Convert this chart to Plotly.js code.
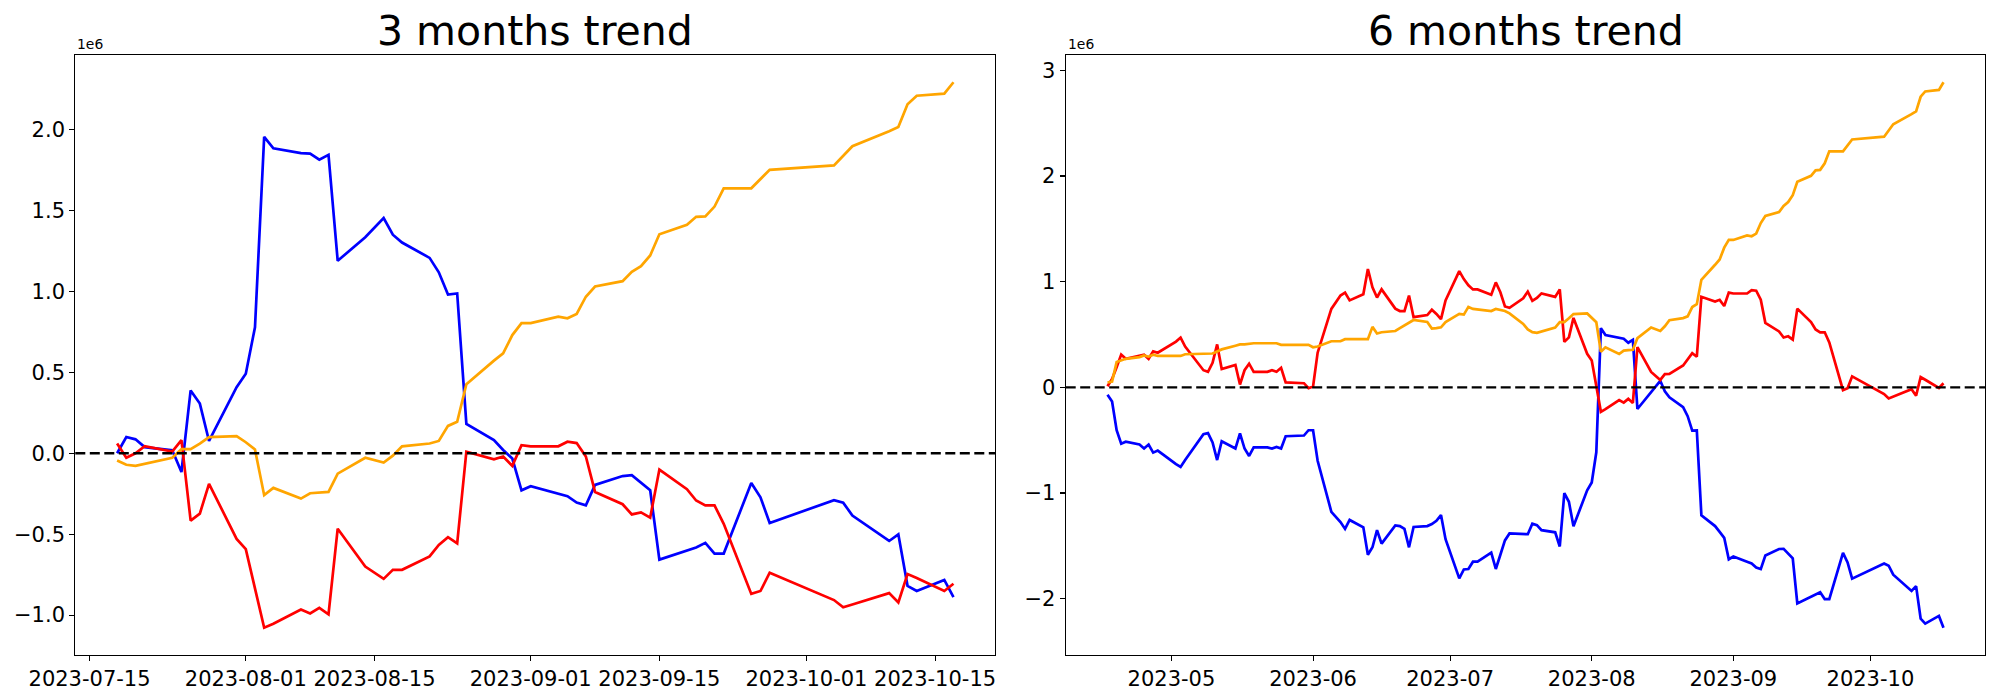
<!DOCTYPE html>
<html>
<head>
<meta charset="utf-8">
<script src="https://cdn.plot.ly/plotly-3.0.1.min.js"></script>
<style>
html, body { margin: 0; padding: 0; background: #ffffff; }
#chart { width: 2000px; height: 700px; }
</style>
</head>
<body>
<div id="chart"></div>
<script>
// ---------- 3 months trend (values in units of 1e6) ----------
const dates3 = [
  '2023-07-18','2023-07-19','2023-07-20','2023-07-21','2023-07-24','2023-07-25','2023-07-26','2023-07-27','2023-07-28','2023-07-31',
  '2023-08-01','2023-08-02','2023-08-03','2023-08-04','2023-08-07','2023-08-08','2023-08-09','2023-08-10','2023-08-11','2023-08-14',
  '2023-08-16','2023-08-17','2023-08-18','2023-08-21','2023-08-22','2023-08-23','2023-08-24','2023-08-25','2023-08-28','2023-08-29',
  '2023-08-30','2023-08-31','2023-09-01','2023-09-04','2023-09-05','2023-09-06','2023-09-07','2023-09-08','2023-09-11','2023-09-12',
  '2023-09-13','2023-09-14','2023-09-15','2023-09-18','2023-09-19','2023-09-20','2023-09-21','2023-09-22','2023-09-25','2023-09-26',
  '2023-09-27','2023-10-04','2023-10-05','2023-10-06','2023-10-10','2023-10-11','2023-10-12','2023-10-13','2023-10-16','2023-10-17'
];
const blue3 = [
  0.00, 0.10, 0.086, 0.038, 0.018, -0.116, 0.388, 0.307, 0.076, 0.408,
  0.491, 0.778, 1.955, 1.884, 1.854, 1.851, 1.814, 1.844, 1.189, 1.335,
  1.453, 1.350, 1.302, 1.207, 1.118, 0.980, 0.987, 0.181, 0.081, 0.02,
  -0.033, -0.229, -0.204, -0.25, -0.265, -0.305, -0.322, -0.196, -0.141, -0.136,
  -0.18, -0.229, -0.657, -0.600, -0.582, -0.554, -0.620, -0.620, -0.184, -0.272,
  -0.431, -0.290, -0.305, -0.385, -0.542, -0.501, -0.819, -0.851, -0.783, -0.889
];
const red3 = [
  0.06, -0.028, 0.0, 0.043, 0.01, 0.081, -0.416, -0.373, -0.189, -0.529,
  -0.592, -0.834, -1.078, -1.053, -0.965, -0.99, -0.955, -0.995, -0.466, -0.700,
  -0.776, -0.720, -0.720, -0.637, -0.567, -0.519, -0.557, 0.010, -0.038, -0.020,
  -0.078, 0.050, 0.043, 0.043, 0.071, 0.063, -0.020, -0.239, -0.315, -0.378,
  -0.365, -0.398, -0.101, -0.222, -0.292, -0.322, -0.322, -0.436, -0.869, -0.851,
  -0.738, -0.907, -0.952, -0.935, -0.864, -0.922, -0.746, -0.771, -0.851, -0.806
];
const orange3 = [
  -0.045, -0.071, -0.078, -0.065, -0.028, 0.025, 0.025, 0.060, 0.100, 0.106,
  0.068, 0.023, -0.259, -0.214, -0.280, -0.247, -0.242, -0.239, -0.126, -0.028,
  -0.058, -0.015, 0.043, 0.060, 0.076, 0.169, 0.194, 0.426, 0.572, 0.617,
  0.730, 0.804, 0.804, 0.844, 0.834, 0.861, 0.967, 1.030, 1.063, 1.121,
  1.156, 1.222, 1.353, 1.411, 1.461, 1.463, 1.524, 1.637, 1.637, 1.693,
  1.751, 1.778, 1.836, 1.897, 1.990, 2.015, 2.156, 2.209, 2.222, 2.292
];

// ---------- 6 months trend (values in units of 1e6) ----------
const dates6 = [
  '2023-04-17','2023-04-18','2023-04-19','2023-04-20','2023-04-21','2023-04-24','2023-04-25','2023-04-26','2023-04-27','2023-04-28',
  '2023-05-02','2023-05-03','2023-05-04','2023-05-08','2023-05-09','2023-05-10','2023-05-11','2023-05-12','2023-05-15','2023-05-16',
  '2023-05-17','2023-05-18','2023-05-19','2023-05-22','2023-05-23','2023-05-24','2023-05-25','2023-05-26','2023-05-30','2023-05-31',
  '2023-06-01','2023-06-02','2023-06-05','2023-06-07','2023-06-08','2023-06-09','2023-06-12','2023-06-13','2023-06-14','2023-06-15',
  '2023-06-16','2023-06-19','2023-06-20','2023-06-21','2023-06-22','2023-06-23','2023-06-26','2023-06-27','2023-06-28','2023-06-29',
  '2023-06-30','2023-07-03','2023-07-04','2023-07-05','2023-07-06','2023-07-07','2023-07-10','2023-07-11','2023-07-12','2023-07-13',
  '2023-07-14','2023-07-17','2023-07-18','2023-07-19','2023-07-20','2023-07-21','2023-07-24','2023-07-25','2023-07-26','2023-07-27',
  '2023-07-28','2023-07-31','2023-08-01','2023-08-02','2023-08-03','2023-08-04','2023-08-07','2023-08-08','2023-08-09','2023-08-10',
  '2023-08-11','2023-08-14','2023-08-16','2023-08-17','2023-08-18','2023-08-21','2023-08-22','2023-08-23','2023-08-24','2023-08-25',
  '2023-08-28','2023-08-29','2023-08-30','2023-08-31','2023-09-01','2023-09-04','2023-09-05','2023-09-06','2023-09-07','2023-09-08',
  '2023-09-11','2023-09-12','2023-09-13','2023-09-14','2023-09-15','2023-09-18','2023-09-19','2023-09-20','2023-09-21','2023-09-22',
  '2023-09-25','2023-09-26','2023-09-27','2023-10-04','2023-10-05','2023-10-06','2023-10-10','2023-10-11','2023-10-12','2023-10-13',
  '2023-10-16','2023-10-17'
];
const blue6 = [
  -0.07, -0.135, -0.405, -0.533, -0.514, -0.541, -0.579, -0.541, -0.618, -0.599,
  -0.726, -0.753, -0.688, -0.444, -0.433, -0.521, -0.688, -0.51, -0.579, -0.436,
  -0.579, -0.649, -0.568, -0.568, -0.579, -0.564, -0.579, -0.463, -0.456, -0.406,
  -0.406, -0.695, -1.178, -1.275, -1.34, -1.255, -1.325, -1.584, -1.514, -1.352,
  -1.479, -1.306, -1.313, -1.34, -1.514, -1.321, -1.313, -1.294, -1.263, -1.209,
  -1.437, -1.808, -1.723, -1.719, -1.65, -1.65, -1.565, -1.719, -1.584, -1.449,
  -1.383, -1.39, -1.39, -1.29, -1.304, -1.352, -1.372, -1.506, -1.002, -1.083,
  -1.314, -0.975, -0.9, -0.615, 0.56, 0.495, 0.465, 0.46, 0.422, 0.45,
  -0.205, -0.045, 0.062, -0.038, -0.095, -0.187, -0.273, -0.41, -0.407, -1.211,
  -1.313, -1.368, -1.424, -1.627, -1.601, -1.65, -1.667, -1.705, -1.72, -1.591,
  -1.53, -1.528, -1.57, -1.618, -2.045, -1.985, -1.96, -1.94, -2.004, -2.004,
  -1.567, -1.657, -1.81, -1.668, -1.688, -1.773, -1.927, -1.881, -2.19, -2.236,
  -2.163, -2.275
];
const red6 = [
  0.01, 0.08, 0.19, 0.31, 0.27, 0.301, 0.309, 0.27, 0.34, 0.328,
  0.433, 0.471, 0.386, 0.162, 0.147, 0.232, 0.406, 0.174, 0.212, 0.027,
  0.162, 0.224, 0.147, 0.147, 0.162, 0.147, 0.185, 0.046, 0.039, -0.008,
  0.008, 0.328, 0.742, 0.869, 0.896, 0.823, 0.881, 1.12, 0.946, 0.85,
  0.927, 0.745, 0.722, 0.722, 0.869, 0.664, 0.684, 0.734, 0.695, 0.645,
  0.823, 1.10, 1.024, 0.966, 0.927, 0.927, 0.877, 0.993, 0.9, 0.765,
  0.753, 0.842, 0.906, 0.818, 0.846, 0.889, 0.856, 0.927, 0.43, 0.473,
  0.657, 0.317, 0.254, 0.012, -0.232, -0.207, -0.12, -0.145, -0.109, -0.148,
  0.38, 0.146, 0.07, 0.125, 0.126, 0.207, 0.27, 0.324, 0.29, 0.857,
  0.812, 0.828, 0.77, 0.896, 0.888, 0.888, 0.919, 0.915, 0.83, 0.61,
  0.529, 0.471, 0.483, 0.452, 0.745, 0.618, 0.548, 0.521, 0.521, 0.425,
  -0.027, -0.008, 0.104, -0.063, -0.105, -0.088, -0.018, -0.08, 0.098, 0.072,
  -0.006, 0.039
];
const orange6 = [
  0.046, 0.054, 0.239, 0.251, 0.27, 0.286, 0.301, 0.29, 0.309, 0.297,
  0.297, 0.297, 0.313, 0.317, 0.317, 0.32, 0.34, 0.359, 0.394, 0.406,
  0.406, 0.413, 0.417, 0.417, 0.417, 0.417, 0.402, 0.402, 0.402, 0.402,
  0.379, 0.386, 0.436, 0.436, 0.456, 0.456, 0.463, 0.456, 0.572, 0.51,
  0.521, 0.533, 0.56, 0.587, 0.618, 0.637, 0.618, 0.556, 0.56, 0.568,
  0.618, 0.695, 0.688, 0.761, 0.742, 0.738, 0.722, 0.742, 0.73, 0.722,
  0.7, 0.6, 0.548, 0.522, 0.515, 0.528, 0.565, 0.618, 0.618, 0.653,
  0.693, 0.699, 0.661, 0.616, 0.336, 0.379, 0.315, 0.347, 0.352, 0.356,
  0.465, 0.566, 0.534, 0.578, 0.636, 0.655, 0.672, 0.76, 0.786, 1.017,
  1.16, 1.21, 1.322, 1.396, 1.395, 1.437, 1.43, 1.455, 1.555, 1.622,
  1.658, 1.716, 1.753, 1.819, 1.945, 2.002, 2.054, 2.058, 2.12, 2.233,
  2.233, 2.286, 2.346, 2.372, 2.431, 2.49, 2.585, 2.612, 2.75, 2.8,
  2.815, 2.887
];

// ---------- ticks and titles ----------
const xTicks3 = ['2023-07-15','2023-08-01','2023-08-15','2023-09-01','2023-09-15','2023-10-01','2023-10-15'];
const xTicks6 = ['2023-05-01','2023-06-01','2023-07-01','2023-08-01','2023-09-01','2023-10-01'];
const yTicks3 = [-1.0, -0.5, 0.0, 0.5, 1.0, 1.5, 2.0];
const yTicks6 = [-2, -1, 0, 1, 2, 3];
const titles = ['3 months trend', '6 months trend'];
const scaleLabel = '1e6';

const W = 2000, H = 700;
const FONT = 'DejaVu Sans, Liberation Sans, sans-serif';
const LW = 2.7;

function line(x, y, color, xa, ya) {
  return { x: x, y: y, type: 'scatter', mode: 'lines', xaxis: xa, yaxis: ya,
           line: { color: color, width: LW }, hoverinfo: 'skip', showlegend: false };
}

const traces = [
  line(dates3, blue3, '#0000ff', 'x', 'y'),
  line(dates3, red3, '#ff0000', 'x', 'y'),
  line(dates3, orange3, '#ffa500', 'x', 'y'),
  line(dates6, blue6, '#0000ff', 'x2', 'y2'),
  line(dates6, red6, '#ff0000', 'x2', 'y2'),
  line(dates6, orange6, '#ffa500', 'x2', 'y2')
];

const axTop = 55, axBot = 655;
const yDom = [(H - axBot) / H, (H - axTop) / H];
const x1Dom = [75.3 / W, 995.3 / W];
const x2Dom = [1065.7 / W, 1985.3 / W];

function baseAxis() {
  return {
    showgrid: false, zeroline: false, showline: true, mirror: true,
    linecolor: '#000000', linewidth: 1.1,
    ticks: 'outside', ticklen: 5, tickwidth: 1.1, tickcolor: '#000000',
    tickfont: { family: FONT, size: 21, color: '#000000' },
    fixedrange: true
  };
}

const layout = {
  width: W, height: H,
  margin: { l: 0, r: 0, t: 0, b: 0, pad: 0 },
  paper_bgcolor: '#ffffff', plot_bgcolor: '#ffffff',
  showlegend: false,
  xaxis: Object.assign(baseAxis(), {
    domain: x1Dom, anchor: 'y', type: 'date',
    range: ['2023-07-13 10:48', '2023-10-21 13:12'],
    tickmode: 'array', tickvals: xTicks3, tickformat: '%Y-%m-%d'
  }),
  yaxis: Object.assign(baseAxis(), {
    domain: yDom, anchor: 'x',
    range: [-1.2465, 2.4605],
    tickmode: 'array', tickvals: yTicks3, tickformat: '.1f'
  }),
  xaxis2: Object.assign(baseAxis(), {
    domain: x2Dom, anchor: 'y2', type: 'date',
    range: ['2023-04-07 20:24', '2023-10-26 03:36'],
    tickmode: 'array', tickvals: xTicks6, tickformat: '%Y-%m'
  }),
  yaxis2: Object.assign(baseAxis(), {
    domain: yDom, anchor: 'x2',
    range: [-2.533, 3.145],
    tickmode: 'array', tickvals: yTicks6, tickformat: 'd'
  }),
  shapes: [
    { type: 'line', xref: 'x domain', yref: 'y', x0: 0, x1: 1, y0: 0, y1: 0, layer: 'above',
      line: { color: '#000000', width: 2.4, dash: '10px,4.5px' } },
    { type: 'line', xref: 'x2 domain', yref: 'y2', x0: 0, x1: 1, y0: 0, y1: 0, layer: 'above',
      line: { color: '#000000', width: 2.4, dash: '10px,4.5px' } }
  ],
  annotations: [
    { text: titles[0], xref: 'paper', yref: 'paper', x: (x1Dom[0] + x1Dom[1]) / 2, y: (H - 57) / H,
      xanchor: 'center', yanchor: 'bottom', showarrow: false,
      font: { family: FONT, size: 41, color: '#000000' } },
    { text: titles[1], xref: 'paper', yref: 'paper', x: (x2Dom[0] + x2Dom[1]) / 2, y: (H - 57) / H,
      xanchor: 'center', yanchor: 'bottom', showarrow: false,
      font: { family: FONT, size: 41, color: '#000000' } },
    { text: scaleLabel, xref: 'paper', yref: 'paper', x: 75.3 / W, y: (H - 54) / H,
      xanchor: 'left', yanchor: 'bottom', showarrow: false,
      font: { family: FONT, size: 13.9, color: '#000000' } },
    { text: scaleLabel, xref: 'paper', yref: 'paper', x: 1065.7 / W, y: (H - 54) / H,
      xanchor: 'left', yanchor: 'bottom', showarrow: false,
      font: { family: FONT, size: 13.9, color: '#000000' } }
  ]
};

Plotly.newPlot('chart', traces, layout, { displayModeBar: false, staticPlot: true });
</script>
</body>
</html>
